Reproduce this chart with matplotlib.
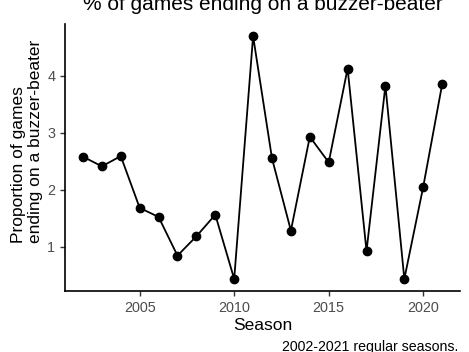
import matplotlib.pyplot as plt

plt.rcParams['font.family'] = ['Liberation Sans', 'DejaVu Sans']

seasons = list(range(2002, 2022))
pct = [2.58, 2.41, 2.59, 1.68, 1.52, 0.84, 1.18, 1.56, 0.43, 4.70,
       2.55, 1.28, 2.93, 2.48, 4.13, 0.92, 3.83, 0.43, 2.05, 3.85]
xticks = [2005, 2010, 2015, 2020]
yticks = [1, 2, 3, 4]

fig = plt.figure(figsize=(4.69, 3.52), dpi=100)
ax = fig.add_axes([0.1386, 0.173, 0.981 - 0.1386, 0.932 - 0.173])

ax.plot(seasons, pct, color='black', linewidth=1.3, marker='o', markersize=6)

ax.set_xlim(2002 - 0.95, 2021 + 0.95)
lo, hi = min(pct), max(pct)
pad = (hi - lo) * 0.05
ax.set_ylim(lo - pad, hi + pad)
ax.set_xticks(xticks)
ax.set_yticks(yticks)
ax.tick_params(colors='#333333', labelcolor='#4D4D4D', labelsize=10.4, length=3.5, width=1)

for s in ['top', 'right']:
    ax.spines[s].set_visible(False)
for s in ['left', 'bottom']:
    ax.spines[s].set_linewidth(1.2)

ax.set_title('% of games ending on a buzzer-beater', fontsize=15, pad=10)
ax.set_xlabel('Season', fontsize=12.5, labelpad=2)
fig.text(27 / 469, 1 - 141 / 352, 'Proportion of games\nending on a buzzer-beater',
         rotation=90, ha='center', va='center', multialignment='left', fontsize=12.5)
fig.text(458 / 469, 1 - 347 / 352, '2002-2021 regular seasons.',
         ha='right', va='center', fontsize=10.2)

fig.savefig('out.png', dpi=100)
